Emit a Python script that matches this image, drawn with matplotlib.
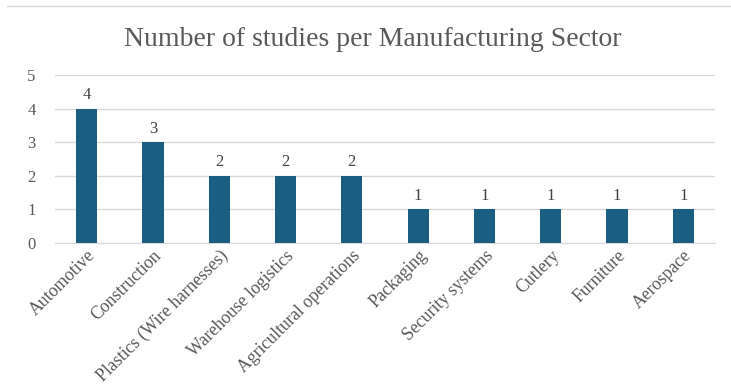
import matplotlib
matplotlib.use("Agg")
import matplotlib.pyplot as plt
from matplotlib.lines import Line2D

sectors = ["Automotive", "Construction", "Plastics (Wire harnesses)", "Warehouse logistics",
           "Agricultural operations", "Packaging", "Security systems", "Cutlery",
           "Furniture", "Aerospace"]
studies = [4, 3, 2, 2, 2, 1, 1, 1, 1, 1]
y_ticks = [0, 1, 2, 3, 4, 5]

plt.rcParams["font.family"] = ["Liberation Serif", "DejaVu Serif"]
text_color = "#595959"
bar_color = "#1A5F82"

fig = plt.figure(figsize=(7.31, 3.90), dpi=100)
ax = fig.add_axes([55 / 731, 1 - 243 / 390, 660 / 731, 168 / 390])

x = list(range(len(sectors)))
bars = ax.bar(x, studies, width=0.32, color=bar_color, zorder=3)
for xi, v in zip(x, studies):
    ax.annotate(str(v), (xi, v), xytext=(0, 4), textcoords="offset points",
                ha="center", va="bottom", fontsize=12, color="#404040")

ax.set_xlim(-0.48, len(sectors) - 0.52)
ax.set_ylim(0, 5)
ax.set_yticks(y_ticks)
ax.tick_params(axis="y", length=0, pad=14, labelsize=12, labelcolor=text_color)
ax.tick_params(axis="x", length=0, pad=3, labelsize=12.8, labelcolor=text_color)
ax.set_xticks(x)
ax.set_xticklabels(sectors, rotation=45, ha="right", rotation_mode="anchor")
ax.grid(axis="y", color="#D9D9D9", linewidth=1, zorder=0)
for s in ["top", "right", "left"]:
    ax.spines[s].set_visible(False)
ax.spines["bottom"].set_color("#D9D9D9")

fig.text(373 / 731, 1 - 40 / 390, "Number of studies per Manufacturing Sector",
         ha="center", va="center", fontsize=20, color=text_color)

fig.add_artist(Line2D([7 / 731, 1], [1 - 6 / 390, 1 - 6 / 390],
                      transform=fig.transFigure, color="#D9D9D9", linewidth=1))

fig.savefig("out.png", dpi=100, facecolor="white")
